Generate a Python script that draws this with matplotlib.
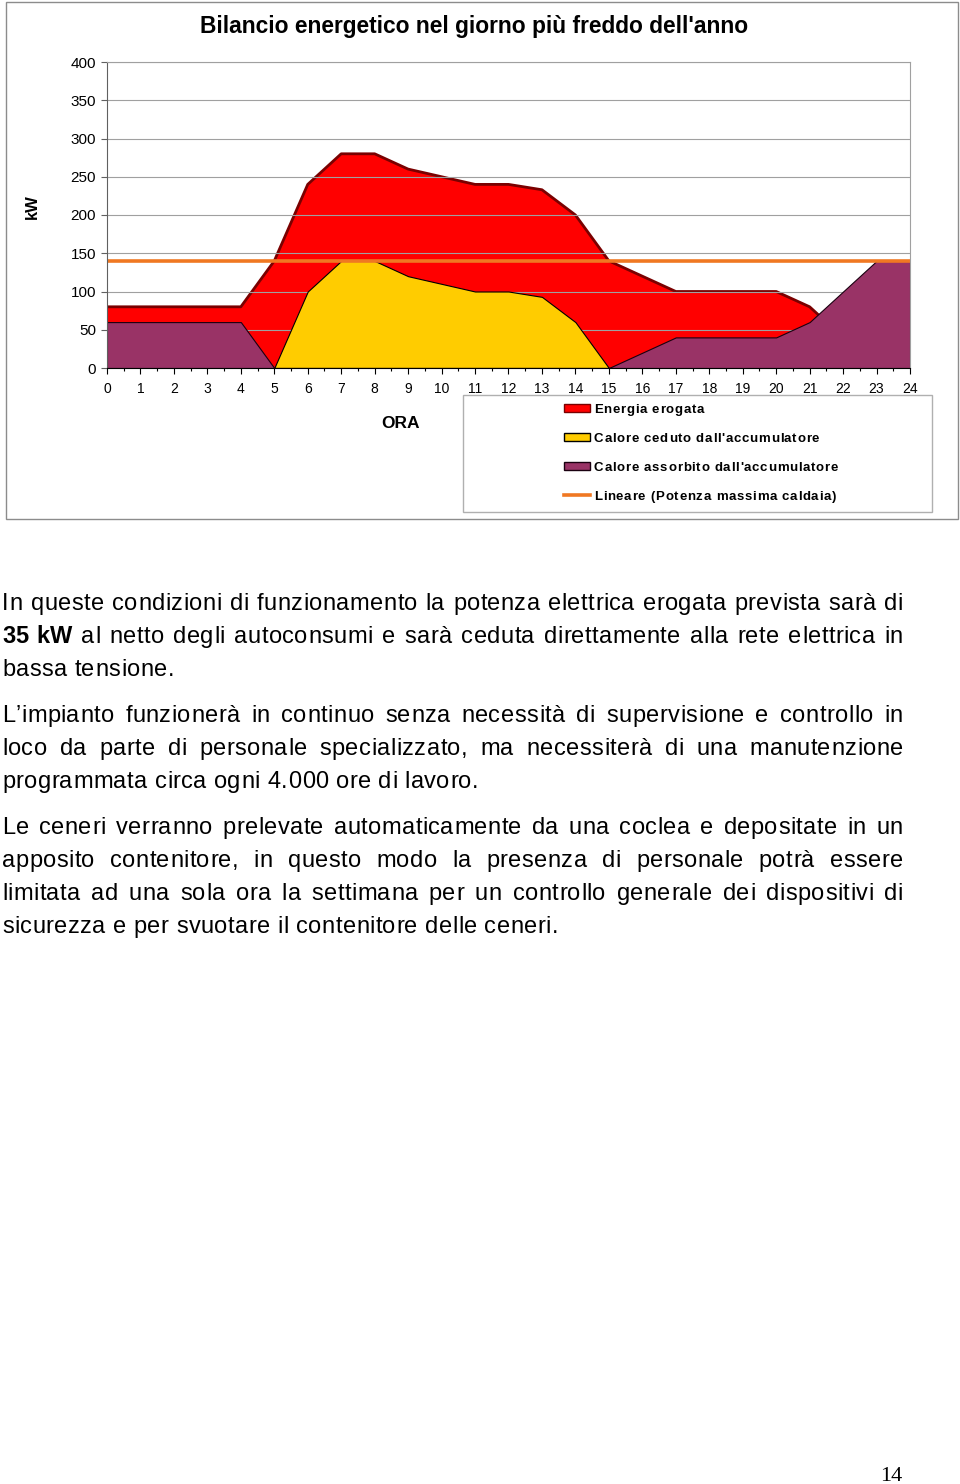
import matplotlib
matplotlib.use("Agg")
import matplotlib.pyplot as plt
import matplotlib.patches as patches
from matplotlib.lines import Line2D
from matplotlib.ticker import MultipleLocator
from matplotlib.font_manager import FontProperties, findfont
from matplotlib.ft2font import FT2Font

plt.rcParams['font.family'] = ['Liberation Sans', 'DejaVu Sans']

W, H = 960, 1484

# data (kW per hour)
ore = list(range(25))
energia_erogata = [80, 80, 80, 80, 80, 140, 240, 280, 280, 260, 250, 240, 240,
                   233, 200, 140, 120, 100, 100, 100, 100, 80, 40, 0, 0]
calore_ceduto = [0, 0, 0, 0, 0, 0, 100, 140, 140, 120, 110, 100, 100,
                 93, 60, 0, 0, 0, 0, 0, 0, 0, 0, 0, 0]
calore_assorbito = [60, 60, 60, 60, 60, 0, 0, 0, 0, 0, 0, 0, 0,
                    0, 0, 0, 20, 40, 40, 40, 40, 60, 100, 140, 140]
potenza_max = 140

titolo = "Bilancio energetico nel giorno più freddo dell'anno"
etichette = ['Energia erogata', "Calore ceduto dall'accumulatore",
             "Calore assorbito dall'accumulatore", 'Lineare (Potenza massima caldaia)']
colori = ['#FF0000', '#FFCC00', '#993366', '#F07822']
bordi = ['#7a0000', 'black', '#1a0010', None]

paragrafi = [
    [[("In", 0), ("queste", 0), ("condizioni", 0), ("di", 0), ("funzionamento", 0), ("la", 0),
      ("potenza", 0), ("elettrica", 0), ("erogata", 0), ("prevista", 0), ("sarà", 0), ("di", 0)],
     [("35 kW", 1), ("al", 0), ("netto", 0), ("degli", 0), ("autoconsumi", 0), ("e", 0), ("sarà", 0),
      ("ceduta", 0), ("direttamente", 0), ("alla", 0), ("rete", 0), ("elettrica", 0), ("in", 0)],
     "bassa tensione."],
    ["L’impianto funzionerà in continuo senza necessità di supervisione e controllo in",
     "loco da parte di personale specializzato, ma necessiterà di una manutenzione",
     "programmata circa ogni 4.000 ore di lavoro."],
    ["Le ceneri verranno prelevate automaticamente da una coclea e depositate in un",
     "apposito contenitore, in questo modo la presenza di personale potrà essere",
     "limitata ad una sola ora la settimana per un controllo generale dei dispositivi di",
     "sicurezza e per svuotare il contenitore delle ceneri."],
]
baseline = [[610, 643, 676], [722, 755, 788], [834, 867, 900, 933]]


def fx(x):
    return x / W


def fy(y):
    return 1 - y / H


fig = plt.figure(figsize=(W / 100, H / 100), dpi=100)

_fonts = {}


def avanzamenti(s, size, weight):
    if weight not in _fonts:
        _fonts[weight] = FT2Font(findfont(FontProperties(family='Liberation Sans', weight=weight)))
    f = _fonts[weight]
    f.set_size(size, 100)
    return [f.load_char(ord(c)).linearHoriAdvance / 65536 for c in s]


def larghezza(s, size, weight='normal', track=0.0):
    return sum(avanzamenti(s, size, weight)) + track * (len(s) - 1)


def scrivi(x, y, s, size, weight='normal', track=0.0):
    # letter-spaced text, x = left edge, y = baseline (pixels)
    for c, a in zip(s, avanzamenti(s, size, weight)):
        if c != ' ':
            fig.text(fx(x), fy(y), c, fontsize=size, fontweight=weight, ha='left', va='baseline')
        x += a + track


# chart frame
fig.patches.append(patches.Rectangle((fx(6), fy(519)), fx(952), 517 / H, transform=fig.transFigure,
                                     fill=False, edgecolor='#8c8c8c', linewidth=1.0))

ax = fig.add_axes([fx(107), fy(368), fx(803), 306 / H])
ax.fill_between(ore, energia_erogata, color=colori[0], linewidth=0, zorder=2)
ax.plot(ore, energia_erogata, color=bordi[0], linewidth=2.0, zorder=2.1)
ax.fill_between(ore, calore_ceduto, facecolor=colori[1], edgecolor=bordi[1], linewidth=0.8, zorder=3)
ax.fill_between(ore, calore_assorbito, facecolor=colori[2], edgecolor=bordi[2], linewidth=0.8, zorder=4)
ax.plot([ore[0], ore[-1]], [potenza_max, potenza_max], color=colori[3], linewidth=2.6, zorder=5)

ax.set_xlim(0, 24)
ax.set_ylim(0, 400)
ax.set_xticks(ore)
ax.xaxis.set_minor_locator(MultipleLocator(0.5))
ax.set_yticks(range(0, 401, 50))
ax.grid(axis='y', color='#a0a0a0', linewidth=0.8, zorder=1)
ax.set_axisbelow(False)
ax.tick_params(axis='x', which='major', length=4, width=0.8, pad=6, labelsize=10)
ax.tick_params(axis='x', which='minor', length=2.5, width=0.8)
ax.tick_params(axis='y', length=4, width=0.8, pad=4, labelsize=11, color='#606060', labelcolor='black')
for s in ['top', 'right']:
    ax.spines[s].set_color('#a0a0a0')
    ax.spines[s].set_linewidth(0.8)
ax.spines['left'].set_color('#606060')
ax.spines['left'].set_linewidth(0.8)
ax.spines['bottom'].set_color('black')
ax.spines['bottom'].set_linewidth(0.8)
for s in ax.spines.values():
    s.set_zorder(6)

fig.text(fx(474), fy(33), titolo, fontsize=16.4, fontweight='bold', ha='center', va='baseline')
fig.text(fx(32), fy(207), 'kW', fontsize=12, fontweight='bold', rotation=90, ha='center', va='center')
fig.text(fx(401), fy(423), 'ORA', fontsize=12.5, fontweight='bold', ha='center', va='center')

# legend
fig.patches.append(patches.Rectangle((fx(463), fy(512)), fx(469), 117 / H, transform=fig.transFigure,
                                     fill=False, edgecolor='#b0b0b0', linewidth=1.0))
tr_leg = (242 - larghezza(etichette[3], 9.5, 'bold')) / (len(etichette[3]) - 1)
for i, (lab, col, bd) in enumerate(zip(etichette, colori, bordi)):
    yc = 408 + 29 * i
    if bd is None:
        fig.lines.append(Line2D([fx(564), fx(590)], [fy(yc), fy(yc)], transform=fig.transFigure,
                                color=col, linewidth=2.6))
    else:
        fig.patches.append(patches.Rectangle((fx(564), fy(yc + 4)), fx(26), 8 / H,
                                             transform=fig.transFigure, facecolor=col,
                                             edgecolor=bd, linewidth=1.0))
    scrivi(594, yc + 5, lab, 9.5, 'bold', tr_leg)

# body text, justified
FS = 17
left, right = 2, 903
ultima = paragrafi[-1][-1]
tr_corpo = (556 - larghezza(ultima, FS)) / (len(ultima) - 1)
for par, ys in zip(paragrafi, baseline):
    for i, (riga, y) in enumerate(zip(par, ys)):
        if isinstance(riga, str):
            tokens = [(w, 0) for w in riga.split(' ')]
        else:
            tokens = riga
        if i == len(par) - 1:
            scrivi(left, y, ' '.join(w for w, _ in tokens), FS, 'normal', tr_corpo)
            continue
        pesi = ['bold' if b else 'normal' for _, b in tokens]
        widths = [larghezza(w, FS, p, tr_corpo) for (w, _), p in zip(tokens, pesi)]
        gap = (right - left - sum(widths)) / (len(tokens) - 1)
        x = left
        for (w, _), p, wd in zip(tokens, pesi, widths):
            scrivi(x, y, w, FS, p, tr_corpo)
            x += wd + gap

fig.text(fx(891), fy(1481), '14', fontsize=16, family=['Liberation Serif', 'DejaVu Serif'],
         ha='center', va='baseline')

fig.savefig('out.png', dpi=100)
